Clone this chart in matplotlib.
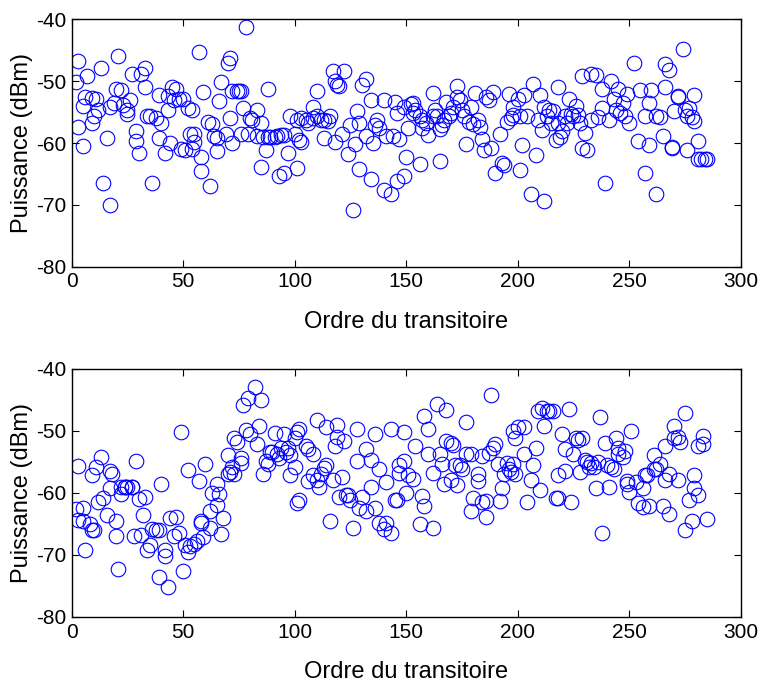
import numpy as np
import matplotlib
matplotlib.use("Agg")
import matplotlib.pyplot as plt

# --- Data (transient index, power in dBm) ---

ordre_haut = [
    2, 3, 3, 5, 5, 6, 7, 9, 9, 10,
    11, 12, 13, 14, 16, 17, 17, 19, 20, 21,
    22, 23, 25, 25, 26, 27, 29, 29, 30, 31,
    33, 33, 34, 35, 36, 38, 39, 39, 40, 42,
    43, 43, 44, 45, 46, 47, 48, 49, 50, 51,
    52, 53, 54, 55, 54, 55, 57, 58, 58, 59,
    61, 62, 63, 64, 65, 65, 66, 67, 69, 70,
    71, 71, 72, 72, 74, 75, 76, 76, 77, 78,
    79, 80, 81, 83, 83, 85, 85, 86, 87, 88,
    88, 89, 91, 92, 93, 94, 95, 95, 97, 98,
    100, 101, 101, 102, 103, 103, 105, 106, 108, 110,
    108, 110, 112, 113, 113, 115, 116, 117, 118, 118,
    119, 120, 122, 121, 124, 125, 126, 127, 128, 129,
    129, 130, 132, 132, 134, 134, 135, 136, 137, 138,
    140, 140, 141, 143, 144, 145, 146, 146, 147, 149,
    149, 150, 151, 152, 153, 153, 156, 154, 156, 157,
    157, 159, 160, 162, 162, 163, 164, 165, 165, 166,
    167, 168, 169, 170, 171, 173, 173, 174, 175, 176,
    177, 178, 179, 180, 181, 182, 183, 184, 185, 186,
    187, 188, 189, 190, 192, 193, 194, 195, 196, 197,
    198, 198, 200, 201, 202, 201, 203, 204, 206, 207,
    208, 209, 210, 211, 212, 212, 213, 214, 215, 216,
    217, 218, 218, 219, 220, 221, 222, 223, 224, 225,
    226, 227, 228, 229, 229, 230, 231, 233, 233, 235,
    236, 238, 238, 239, 241, 242, 243, 244, 245, 246,
    247, 248, 249, 250, 252, 255, 254, 257, 257, 259,
    259, 260, 262, 262, 264, 265, 266, 266, 268, 269,
    269, 270, 272, 272, 274, 275, 276, 276, 277, 278,
    279, 279, 281, 281, 282, 284, 285,
]
puissance_haut = [
    -50.1, -46.8, -57.4, -60.5, -54.0, -52.5, -49.2, -52.7, -56.8, -55.6,
    -52.8, -54.6, -47.9, -66.4, -59.2, -70.0, -54.1, -53.5, -51.3, -46.0,
    -51.4, -53.9, -54.7, -55.3, -53.1, -48.8, -58.1, -59.7, -61.6, -48.8,
    -47.9, -51.0, -55.6, -55.7, -66.4, -56.0, -59.2, -52.2, -56.8, -61.6,
    -52.4, -54.7, -60.0, -51.0, -53.1, -51.2, -52.8, -61.0, -52.8, -61.1,
    -54.4, -58.5, -54.7, -58.6, -60.9, -59.8, -45.2, -62.2, -64.6, -51.7,
    -56.6, -67.0, -57.0, -58.9, -59.2, -61.3, -53.2, -50.2, -58.5, -47.1,
    -46.3, -56.0, -60.0, -51.6, -51.6, -51.6, -51.6, -58.6, -54.4, -41.3,
    -58.6, -56.0, -56.3, -54.6, -58.9, -63.8, -56.8, -59.0, -61.1, -51.3,
    -59.0, -59.0, -59.0, -58.9, -65.4, -58.7, -58.7, -64.8, -61.6, -55.6,
    -58.5, -56.2, -64.1, -59.5, -59.8, -56.0, -56.3, -56.8, -54.1, -51.6,
    -56.0, -55.7, -56.3, -59.2, -56.3, -56.5, -55.7, -48.3, -59.8, -49.9,
    -50.6, -50.8, -48.4, -58.6, -61.8, -57.1, -70.8, -60.2, -54.9, -56.7,
    -64.2, -50.6, -49.7, -58.9, -53.1, -65.8, -60.0, -57.1, -56.2, -57.6,
    -67.6, -53.1, -58.9, -68.3, -58.9, -53.3, -55.2, -66.1, -59.4, -65.4,
    -54.2, -62.2, -57.6, -53.7, -53.6, -55.2, -63.4, -54.7, -55.7, -56.3,
    -57.6, -56.8, -58.7, -51.9, -55.7, -54.7, -55.7, -62.9, -57.8, -57.1,
    -56.3, -53.3, -55.7, -55.1, -54.1, -50.8, -52.6, -53.0, -54.7, -55.7,
    -60.1, -56.6, -54.1, -57.0, -51.9, -56.2, -57.4, -59.4, -61.1, -52.6,
    -53.0, -60.8, -51.8, -64.8, -58.6, -63.3, -63.6, -56.6, -52.0, -56.0,
    -55.5, -54.1, -52.8, -64.4, -60.3, -55.7, -52.3, -55.6, -68.2, -50.5,
    -61.9, -56.3, -52.3, -57.9, -69.3, -54.1, -55.7, -54.7, -56.8, -54.9,
    -59.5, -51.0, -56.8, -59.0, -58.1, -55.6, -56.8, -52.8, -55.3, -55.7,
    -54.0, -55.5, -56.8, -49.2, -60.8, -58.3, -61.2, -56.3, -48.8, -49.0,
    -55.8, -54.4, -51.3, -66.5, -56.3, -49.9, -52.8, -54.7, -51.3, -55.2,
    -53.6, -55.7, -52.0, -56.8, -47.1, -51.4, -59.7, -64.9, -55.6, -53.5,
    -60.3, -51.4, -68.2, -55.6, -55.8, -58.9, -47.2, -50.9, -48.2, -60.7,
    -60.8, -54.8, -52.4, -52.6, -44.8, -54.7, -61.2, -55.6, -54.4, -55.8,
    -52.2, -56.4, -59.6, -62.6, -62.6, -62.6, -62.6,
]

ordre_bas = [
    3, 2, 3, 5, 5, 6, 8, 9, 9, 10,
    11, 12, 13, 14, 16, 17, 17, 18, 20, 20,
    21, 22, 22, 24, 24, 25, 27, 27, 28, 29,
    30, 31, 32, 33, 34, 35, 36, 38, 39, 39,
    40, 42, 42, 43, 44, 46, 47, 48, 49, 50,
    51, 52, 52, 53, 55, 56, 57, 58, 58, 59,
    60, 62, 62, 63, 65, 65, 66, 67, 68, 70,
    70, 71, 72, 73, 73, 74, 76, 76, 77, 78,
    79, 80, 82, 83, 84, 85, 86, 87, 88, 89,
    90, 91, 92, 93, 94, 95, 96, 97, 98, 98,
    100, 101, 101, 102, 100, 102, 105, 106, 106, 108,
    108, 110, 110, 111, 112, 113, 114, 114, 116, 117,
    118, 119, 119, 120, 121, 122, 123, 124, 125, 126,
    128, 128, 129, 130, 132, 132, 134, 134, 136, 136,
    138, 138, 140, 141, 141, 143, 143, 145, 146, 147,
    147, 149, 149, 150, 151, 153, 154, 156, 157, 158,
    158, 160, 160, 162, 162, 164, 165, 166, 167, 168,
    168, 170, 170, 171, 172, 173, 174, 175, 177, 177,
    179, 179, 180, 182, 182, 184, 184, 186, 186, 187,
    188, 189, 190, 191, 192, 193, 194, 195, 196, 197,
    198, 198, 199, 199, 200, 203, 203, 204, 206, 207,
    208, 209, 210, 211, 212, 213, 214, 216, 217, 218,
    218, 220, 221, 221, 223, 224, 225, 226, 227, 228,
    229, 230, 231, 232, 233, 234, 235, 236, 237, 238,
    239, 240, 241, 242, 243, 244, 245, 245, 247, 248,
    249, 249, 250, 251, 253, 254, 256, 256, 257, 258,
    259, 261, 261, 262, 264, 265, 266, 266, 268, 268,
    270, 270, 272, 272, 273, 275, 275, 277, 278, 279,
    279, 281, 281, 283, 283, 285,
]
puissance_bas = [
    -55.6, -62.6, -64.4, -62.4, -64.6, -69.2, -65.1, -57.1, -66.0, -66.0,
    -55.8, -61.5, -54.2, -60.9, -63.5, -59.3, -56.5, -57.0, -67.0, -64.5,
    -72.3, -59.1, -60.2, -59.0, -59.1, -59.0, -59.0, -59.1, -67.0, -54.9,
    -61.0, -66.8, -63.5, -60.6, -69.2, -68.4, -65.8, -66.0, -66.0, -73.6,
    -58.5, -69.2, -70.1, -75.1, -64.1, -67.0, -63.9, -66.5, -50.2, -72.6,
    -68.4, -69.5, -56.3, -68.5, -68.2, -67.8, -58.1, -64.9, -64.5, -67.1,
    -55.4, -63.0, -65.7, -60.1, -61.9, -58.6, -60.2, -66.7, -64.0, -57.0,
    -53.9, -56.6, -55.8, -57.0, -51.1, -51.8, -54.4, -55.2, -45.9, -49.9,
    -44.8, -50.6, -42.9, -52.2, -49.3, -45.1, -56.9, -54.9, -55.4, -53.4,
    -53.4, -50.4, -53.8, -54.4, -52.8, -50.6, -53.5, -52.8, -53.9, -57.1,
    -51.1, -61.6, -50.2, -61.2, -55.8, -49.7, -52.4, -53.0, -58.1, -53.8,
    -57.1, -48.2, -58.0, -59.0, -57.0, -56.0, -55.5, -49.4, -64.5, -58.0,
    -52.5, -49.0, -51.0, -60.6, -57.5, -51.6, -60.3, -60.3, -61.1, -65.6,
    -49.7, -54.9, -62.4, -60.6, -63.0, -52.9, -54.7, -59.1, -50.5, -62.4,
    -56.1, -64.8, -65.8, -64.8, -58.3, -66.4, -49.7, -61.1, -61.1, -55.5,
    -56.8, -54.8, -50.2, -60.1, -57.1, -57.7, -52.4, -65.1, -60.5, -62.2,
    -47.7, -49.7, -53.8, -56.8, -65.6, -45.7, -53.8, -55.4, -58.5, -46.6,
    -51.6, -52.0, -57.9, -52.3, -55.5, -58.7, -55.5, -56.1, -48.6, -53.8,
    -53.8, -62.9, -60.9, -56.9, -58.1, -54.0, -61.5, -63.9, -61.3, -53.6,
    -44.2, -52.7, -52.1, -55.4, -61.3, -59.3, -57.0, -55.2, -56.2, -56.7,
    -50.0, -55.3, -51.1, -57.0, -49.4, -49.4, -53.8, -61.4, -57.9, -55.5,
    -52.7, -46.9, -59.5, -46.3, -49.3, -46.8, -46.8, -46.9, -60.8, -60.9,
    -57.1, -50.5, -56.5, -52.9, -46.5, -61.5, -53.8, -51.1, -51.5, -56.6,
    -51.1, -54.7, -55.0, -55.8, -55.2, -55.8, -59.2, -55.1, -47.8, -66.4,
    -52.0, -55.5, -59.0, -55.9, -56.1, -51.1, -52.8, -53.8, -54.2, -53.3,
    -58.1, -58.5, -59.9, -50.1, -58.2, -61.6, -59.2, -62.3, -57.2, -57.2,
    -62.2, -53.9, -56.1, -56.2, -55.3, -62.1, -52.5, -58.0, -63.4, -56.9,
    -49.3, -51.1, -57.9, -51.0, -51.8, -47.1, -66.0, -61.1, -64.5, -57.2,
    -59.2, -60.4, -52.5, -52.2, -50.8, -64.2,
]

x_ticks = [0, 50, 100, 150, 200, 250, 300]
y_ticks = [-80, -70, -60, -50, -40]

# --- Figure ---

plt.rcParams['font.family'] = ['Liberation Sans', 'DejaVu Sans']
plt.rcParams['axes.unicode_minus'] = False

fig = plt.figure(figsize=(7.6, 6.86), dpi=100)
ax_top = fig.add_axes([0.0943, 0.6112, 0.8803, 0.3606])
ax_bot = fig.add_axes([0.0943, 0.1006, 0.8803, 0.3620])


def style_panel(ax, xs, ys):
    ax.plot(xs, ys, linestyle='none', marker='o', markersize=10.5,
            markerfacecolor='none', markeredgecolor='#0000ff',
            markeredgewidth=0.8)
    ax.set_xlim(0, 300)
    ax.set_ylim(-80, -40)
    ax.set_xticks(x_ticks)
    ax.set_yticks(y_ticks)
    ax.tick_params(direction='in', top=True, right=True, length=5,
                   width=0.8, labelsize=15, pad=4)
    for s in ax.spines.values():
        s.set_linewidth(1.0)
    ax.set_xlabel('Ordre du transitoire', fontsize=17, labelpad=14)
    ax.set_ylabel('Puissance (dBm)', fontsize=17, labelpad=2)


style_panel(ax_top, ordre_haut, puissance_haut)
style_panel(ax_bot, ordre_bas, puissance_bas)

fig.savefig('out.png', dpi=100, facecolor='white')
